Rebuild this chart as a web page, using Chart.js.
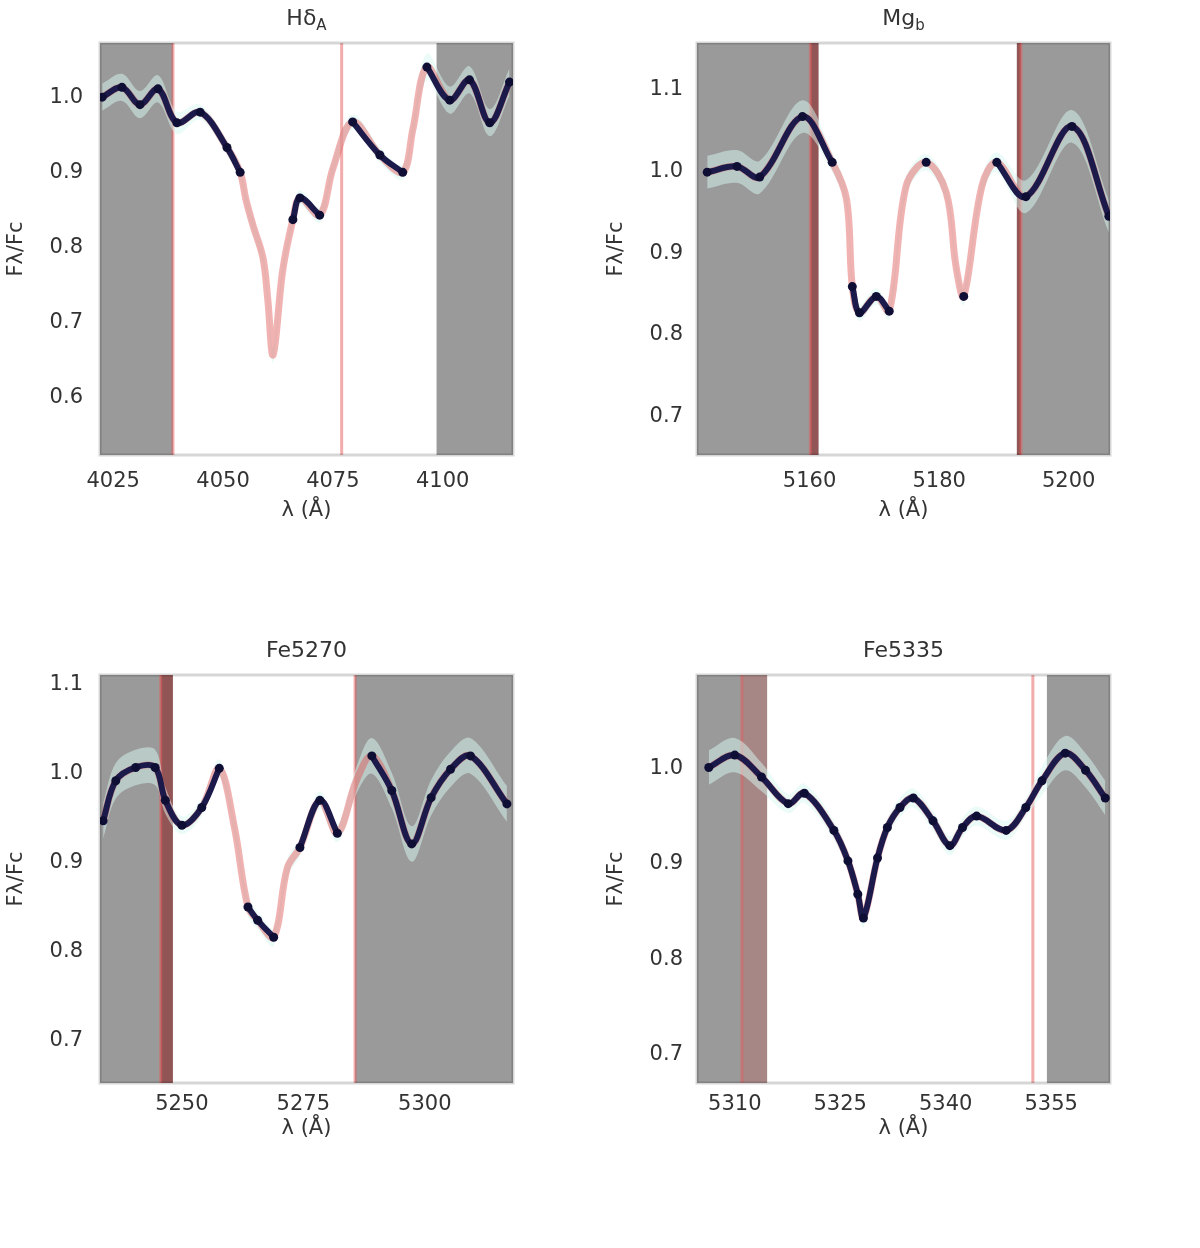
<!DOCTYPE html>
<html>
<head>
<meta charset="utf-8">
<script src="https://cdn.jsdelivr.net/npm/chart.js@4.4.1/dist/chart.umd.min.js"></script>
<style>
  html, body { margin: 0; padding: 0; background: #fff; }
  #wrap { position: relative; width: 1200px; height: 1248px; }
  .cell { position: absolute; }
</style>
</head>
<body>
<div id="wrap">
  <div class="cell" style="left:0;top:0;width:600px;height:632px"><canvas id="c-hd"></canvas></div>
  <div class="cell" style="left:600px;top:0;width:600px;height:632px"><canvas id="c-mg"></canvas></div>
  <div class="cell" style="left:0;top:632px;width:600px;height:616px"><canvas id="c-fe70"></canvas></div>
  <div class="cell" style="left:600px;top:632px;width:600px;height:616px"><canvas id="c-fe35"></canvas></div>
</div>
<script>
// --- H delta A ---
const hdWave  = [4022.5, 4027.0, 4031.1, 4035.2, 4039.5, 4044.8, 4050.9, 4053.9, 4055.2, 4056.8, 4059.1, 4060.2, 4061.4, 4063.6, 4065.9, 4067.5, 4072.0, 4075.0, 4079.5, 4085.7, 4090.9, 4093.2, 4096.4, 4101.6, 4106.1, 4110.7, 4115.2];
const hdModel = [1.000, 1.013, 0.990, 1.011, 0.966, 0.980, 0.933, 0.900, 0.864, 0.830, 0.786, 0.730, 0.657, 0.770, 0.837, 0.866, 0.843, 0.905, 0.967, 0.923, 0.900, 0.957, 1.040, 0.996, 1.023, 0.966, 1.020];
const hdData  = [1.000, 1.013, 0.990, 1.011, 0.966, 0.980, 0.933, 0.900, null, null, null, null, null, null, 0.837, 0.866, 0.843, null, 0.967, 0.923, 0.900, null, 1.040, 0.996, 1.023, 0.966, 1.020];
const hdErr   = [0.018, 0.018, 0.018, 0.018, 0.015, 0.01, 0.01, 0.01, 0.01, 0.01, 0.01, 0.01, 0.01, 0.01, 0.01, 0.01, 0.01, 0.01, 0.01, 0.01, 0.01, 0.012, 0.018, 0.018, 0.018, 0.018, 0.018];
const hdTicksX = [4025, 4050, 4075, 4100];

// --- Mg b ---
const mgWave  = [5144.2, 5148.8, 5152.3, 5158.9, 5163.5, 5165.7, 5166.6, 5167.7, 5170.3, 5172.3, 5174.9, 5178.0, 5181.1, 5182.6, 5183.8, 5186.6, 5188.9, 5193.4, 5200.5, 5206.2];
const mgModel = [0.999, 1.006, 0.993, 1.067, 1.011, 0.966, 0.859, 0.827, 0.847, 0.829, 0.982, 1.011, 0.974, 0.884, 0.847, 0.982, 1.011, 0.969, 1.055, 0.945];
const mgData  = [0.999, 1.006, 0.993, 1.067, 1.011, null, 0.859, 0.827, 0.847, 0.829, null, 1.011, null, null, 0.847, null, 1.011, 0.969, 1.055, 0.945];
const mgErr   = [0.02, 0.02, 0.02, 0.02, 0.012, 0.01, 0.01, 0.01, 0.01, 0.01, 0.01, 0.01, 0.01, 0.01, 0.01, 0.01, 0.012, 0.02, 0.02, 0.02];
const mgTicksX = [5160, 5180, 5200];

// --- Fe5270 ---
const fe70Wave  = [5233.8, 5236.4, 5240.5, 5244.5, 5246.6, 5250.0, 5254.1, 5257.7, 5260.8, 5263.6, 5265.6, 5268.9, 5271.7, 5274.3, 5278.4, 5282.0, 5285.9, 5289.1, 5293.2, 5297.3, 5301.3, 5305.3, 5309.4, 5316.9];
const fe70Model = [0.947, 0.992, 1.007, 1.007, 0.970, 0.942, 0.962, 1.006, 0.940, 0.850, 0.835, 0.816, 0.894, 0.917, 0.970, 0.933, 0.992, 1.020, 0.981, 0.921, 0.973, 1.005, 1.020, 0.966];
const fe70Data  = [0.947, 0.992, 1.007, 1.007, 0.970, 0.942, 0.962, 1.006, null, 0.850, 0.835, 0.816, null, 0.917, 0.970, 0.933, null, 1.020, 0.981, 0.921, 0.973, 1.005, 1.020, 0.966];
const fe70Err   = [0.02, 0.02, 0.02, 0.02, 0.015, 0.01, 0.01, 0.01, 0.01, 0.01, 0.01, 0.01, 0.01, 0.01, 0.01, 0.01, 0.015, 0.02, 0.02, 0.02, 0.02, 0.02, 0.02, 0.02];
const fe70TicksX = [5250, 5275, 5300];

// --- Fe5335 ---
const fe35Wave  = [5306.3, 5310.0, 5313.8, 5317.6, 5319.9, 5324.1, 5326.1, 5327.5, 5328.3, 5330.3, 5331.7, 5333.5, 5335.4, 5338.2, 5340.6, 5342.4, 5344.4, 5348.6, 5351.4, 5353.7, 5357.0, 5359.9, 5362.7];
const fe35Model = [1.001, 1.014, 0.991, 0.963, 0.974, 0.935, 0.903, 0.868, 0.843, 0.906, 0.938, 0.959, 0.969, 0.945, 0.919, 0.938, 0.950, 0.935, 0.959, 0.987, 1.016, 0.998, 0.969];
const fe35Data  = [1.001, 1.014, 0.991, 0.963, 0.974, 0.935, 0.903, 0.868, 0.843, 0.906, 0.938, 0.959, 0.969, 0.945, 0.919, 0.938, 0.950, 0.935, 0.959, 0.987, 1.016, 0.998, 0.969];
const fe35Err   = [0.018, 0.018, 0.015, 0.01, 0.01, 0.01, 0.01, 0.01, 0.01, 0.01, 0.01, 0.01, 0.01, 0.01, 0.01, 0.01, 0.01, 0.01, 0.01, 0.015, 0.018, 0.018, 0.018];
const fe35TicksX = [5310, 5325, 5340, 5355];

// pseudo-continua and index passbands (Å)
const hdCont   = [[4022.0, 4038.6], [4098.6, 4116.0]];
const hdIndex  = [4038.6, 4077.0];
const mgCont   = [[5142.625, 5161.375], [5192.0, 5206.375]];
const mgIndex  = [5160.125, 5192.625];
const fe70Cont = [[5233.15, 5248.15], [5285.65, 5318.15]];
const fe70Index = [5245.65, 5285.65];
const fe35Cont = [[5304.625, 5314.6], [5354.4, 5363.375]];
const fe35Index = [5311.0, 5352.4];

const FONT = 'DejaVu Sans';
const pts = (xs, ys) => xs.map((x, i) => ({ x, y: ys[i] }));
const band = (xs, ys, es, s) => xs.map((x, i) => ({ x, y: ys[i] + s * es[i] }));

const passbands = {
  id: 'passbands',
  beforeDatasetsDraw(chart, args, o) {
    const { ctx, chartArea: a, scales: { x } } = chart;
    ctx.save();
    ctx.beginPath();
    ctx.rect(a.left, a.top, a.right - a.left, a.bottom - a.top);
    ctx.clip();
    o.cont.forEach(([lo, hi]) => {
      const p0 = x.getPixelForValue(lo), p1 = x.getPixelForValue(hi);
      ctx.fillStyle = '#9a9a9a';
      ctx.fillRect(p0, a.top, p1 - p0, a.bottom - a.top);
      const ov0 = Math.max(lo, o.index[0]), ov1 = Math.min(hi, o.index[1]);
      if (ov1 > ov0) {
        const q0 = x.getPixelForValue(ov0), q1 = x.getPixelForValue(ov1);
        ctx.fillStyle = o.overlap;
        ctx.fillRect(q0, a.top, q1 - q0, a.bottom - a.top);
      }
    });
    ctx.strokeStyle = 'rgba(230,90,90,0.5)';
    ctx.lineWidth = 3;
    o.index.forEach(v => {
      const p = x.getPixelForValue(v);
      ctx.beginPath();
      ctx.moveTo(p, a.top);
      ctx.lineTo(p, a.bottom);
      ctx.stroke();
    });
    ctx.restore();
  },
  afterDraw(chart, args, o) {
    const { ctx, chartArea: a } = chart;
    ctx.save();
    ctx.strokeStyle = 'rgba(0,0,0,0.16)';
    ctx.lineWidth = 3;
    ctx.strokeRect(a.left, a.top, a.right - a.left, a.bottom - a.top);
    // panel title with optional subscript
    ctx.fillStyle = '#333';
    ctx.textBaseline = 'middle';
    ctx.font = `22px "${FONT}"`;
    const w1 = ctx.measureText(o.title).width;
    ctx.font = `15px "${FONT}"`;
    const w2 = o.sub ? ctx.measureText(o.sub).width : 0;
    const cx = (a.left + a.right) / 2, cy = a.top - 24;
    const x0 = cx - (w1 + w2) / 2;
    ctx.font = `22px "${FONT}"`;
    ctx.textAlign = 'left';
    ctx.fillText(o.title, x0, cy);
    if (o.sub) {
      ctx.font = `15px "${FONT}"`;
      ctx.fillText(o.sub, x0 + w1, cy + 7);
    }
    ctx.restore();
  }
};

function panel(id, p) {
  new Chart(document.getElementById(id), {
    type: 'line',
    data: {
      datasets: [
        { data: pts(p.wave, p.data), borderColor: '#1b1a4a', borderWidth: 6, pointRadius: 4.5,
          pointBackgroundColor: '#0f0f36', pointBorderWidth: 0, tension: 0.35, spanGaps: false, order: 1 },
        { data: pts(p.wave, p.model), borderColor: 'rgba(225,85,85,0.45)', borderWidth: 7, pointRadius: 0,
          tension: 0.35, order: 2 },
        { data: band(p.wave, p.model, p.err, 1), borderWidth: 0, pointRadius: 0, tension: 0.35,
          fill: '+1', backgroundColor: 'rgba(215,248,242,0.5)', order: 3 },
        { data: band(p.wave, p.model, p.err, -1), borderWidth: 0, pointRadius: 0, tension: 0.35,
          fill: false, order: 4 },
      ]
    },
    options: {
      responsive: true,
      maintainAspectRatio: false,
      animation: false,
      layout: { padding: { top: 43, left: 0, right: p.padRight, bottom: p.padBottom } },
      plugins: {
        legend: { display: false },
        tooltip: { enabled: false },
        passbands: { cont: p.cont, index: p.index, title: p.title, sub: p.sub, overlap: p.overlap },
      },
      scales: {
        x: {
          type: 'linear', min: p.xmin, max: p.xmax,
          grid: { display: false, drawTicks: false }, border: { display: false },
          afterBuildTicks: s => { s.ticks = p.ticksX.map(v => ({ value: v })); },
          afterFit: s => { s.height = 80; },
          ticks: { color: '#333', font: { family: FONT, size: 21 }, padding: p.xPad, maxRotation: 0,
                   callback: v => String(v) },
          title: { display: true, text: 'λ (Å)', color: '#333', font: { family: FONT, size: 21 },
                   padding: { top: 0, bottom: p.xTitlePad } },
        },
        y: {
          min: p.ymin, max: p.ymax,
          grid: { display: false, drawTicks: false }, border: { display: false },
          afterFit: s => { s.width = p.yWidth; },
          ticks: { stepSize: 0.1, includeBounds: false, color: '#333', font: { family: FONT, size: 21 },
                   padding: p.yPad, callback: v => v.toFixed(1) },
          title: { display: true, text: 'Fλ/Fc', color: '#333', font: { family: FONT, size: 21 },
                   padding: { top: 4, bottom: 0 } },
        }
      }
    },
    plugins: [passbands]
  });
}

panel('c-hd', { wave: hdWave, model: hdModel, data: hdData, err: hdErr, ticksX: hdTicksX,
  cont: hdCont, index: hdIndex, title: 'Hδ', sub: 'A', xmin: 4022.0, xmax: 4116.0, ymin: 0.524, ymax: 1.072,
  overlap: 'rgba(150,45,45,0.55)', padRight: 87, padBottom: 97, yWidth: 100, yPad: 17, xPad: 14, xTitlePad: 12 });
panel('c-mg', { wave: mgWave, model: mgModel, data: mgData, err: mgErr, ticksX: mgTicksX,
  cont: mgCont, index: mgIndex, title: 'Mg', sub: 'b', xmin: 5142.625, xmax: 5206.375, ymin: 0.653, ymax: 1.157,
  overlap: 'rgba(140,40,40,0.6)', padRight: 90, padBottom: 97, yWidth: 97, yPad: 14, xPad: 14, xTitlePad: 12 });
panel('c-fe70', { wave: fe70Wave, model: fe70Model, data: fe70Data, err: fe70Err, ticksX: fe70TicksX,
  cont: fe70Cont, index: fe70Index, title: 'Fe5270', sub: '', xmin: 5233.15, xmax: 5318.15, ymin: 0.652, ymax: 1.111,
  overlap: 'rgba(140,40,40,0.6)', padRight: 87, padBottom: 85, yWidth: 100, yPad: 17, xPad: 9, xTitlePad: 22 });
panel('c-fe35', { wave: fe35Wave, model: fe35Model, data: fe35Data, err: fe35Err, ticksX: fe35TicksX,
  cont: fe35Cont, index: fe35Index, title: 'Fe5335', sub: '', xmin: 5304.625, xmax: 5363.375, ymin: 0.67, ymax: 1.098,
  overlap: 'rgba(200,90,90,0.3)', padRight: 90, padBottom: 85, yWidth: 97, yPad: 14, xPad: 9, xTitlePad: 22 });
</script>
</body>
</html>
